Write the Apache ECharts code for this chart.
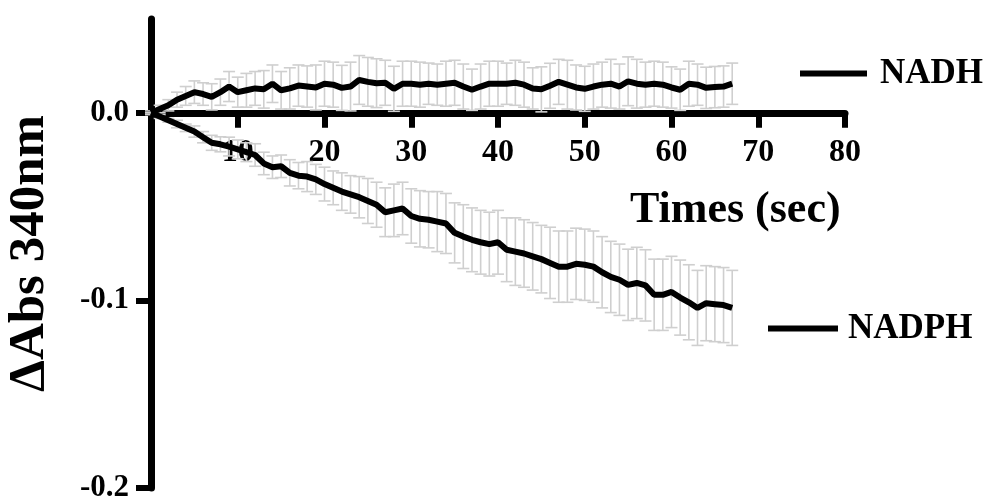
<!DOCTYPE html>
<html>
<head>
<meta charset="utf-8">
<script src="https://cdn.jsdelivr.net/npm/echarts@6/dist/echarts.min.js"></script>
<style>html,body{margin:0;padding:0;background:#fff}#c{width:989px;height:499px}</style>
</head>
<body>
<div id="c"></div>
<script>
const times = [0,1,2,3,4,5,6,7,8,9,10,11,12,13,14,15,16,17,18,19,20,21,22,23,24,25,26,27,28,29,30,31,32,33,34,35,36,37,38,39,40,41,42,43,44,45,46,47,48,49,50,51,52,53,54,55,56,57,58,59,60,61,62,63,64,65,66,67];
const nadh = [0.000,0.002,0.004,0.007,0.009,0.011,0.010,0.0085,0.011,0.014,0.011,0.012,0.013,0.0125,0.0155,0.012,0.013,0.0145,0.014,0.0135,0.0155,0.015,0.0133,0.014,0.0175,0.0165,0.0158,0.016,0.0128,0.0155,0.0155,0.015,0.0155,0.015,0.0155,0.016,0.014,0.0123,0.014,0.0155,0.0155,0.0155,0.016,0.015,0.013,0.0125,0.0144,0.0165,0.015,0.0135,0.0128,0.014,0.015,0.0155,0.014,0.0168,0.0155,0.015,0.0155,0.015,0.0135,0.0123,0.0155,0.015,0.0133,0.0137,0.014,0.0155];
const nadhErr = [0.001,0.002,0.003,0.004,0.005,0.006,0.006,0.007,0.007,0.008,0.008,0.009,0.009,0.010,0.010,0.010,0.011,0.011,0.011,0.012,0.012,0.012,0.012,0.013,0.013,0.013,0.013,0.012,0.012,0.012,0.012,0.012,0.011,0.011,0.012,0.012,0.012,0.011,0.012,0.012,0.012,0.011,0.012,0.012,0.011,0.012,0.012,0.012,0.013,0.012,0.012,0.012,0.012,0.013,0.012,0.013,0.013,0.012,0.012,0.012,0.011,0.011,0.012,0.011,0.011,0.011,0.011,0.011];
const nadph = [0.000,-0.002,-0.004,-0.006,-0.008,-0.010,-0.013,-0.016,-0.0168,-0.018,-0.0195,-0.021,-0.0225,-0.027,-0.029,-0.0285,-0.032,-0.0335,-0.034,-0.0355,-0.038,-0.040,-0.042,-0.0435,-0.045,-0.047,-0.049,-0.053,-0.052,-0.051,-0.055,-0.0565,-0.057,-0.058,-0.059,-0.064,-0.066,-0.0677,-0.069,-0.070,-0.069,-0.073,-0.074,-0.075,-0.0765,-0.078,-0.080,-0.082,-0.082,-0.0805,-0.081,-0.082,-0.085,-0.0875,-0.089,-0.0917,-0.0907,-0.092,-0.097,-0.097,-0.0955,-0.0985,-0.101,-0.104,-0.1015,-0.102,-0.1025,-0.104];
const nadphErr = [0.000,0.001,0.001,0.002,0.002,0.003,0.003,0.004,0.004,0.005,0.005,0.005,0.006,0.006,0.006,0.006,0.007,0.007,0.008,0.008,0.009,0.009,0.010,0.010,0.011,0.012,0.012,0.013,0.014,0.014,0.0145,0.015,0.015,0.016,0.016,0.016,0.017,0.017,0.017,0.017,0.017,0.017,0.018,0.018,0.018,0.018,0.019,0.019,0.019,0.019,0.019,0.019,0.019,0.019,0.019,0.019,0.019,0.019,0.019,0.019,0.019,0.020,0.020,0.020,0.020,0.020,0.020,0.020];
const seriesNames = ['NADH', 'NADPH'];
const xTicks = {min: 0, max: 80, interval: 10};
const yRange = {min: -0.2, max: 0.05, interval: 0.05};
const yTickValues = [-0.2, -0.1, 0];
const xTitle = 'Times (sec)';
const yTitle = 'ΔAbs 340nm';

const FONT = '"Liberation Serif","Times New Roman",serif';
function toErr(vals, errs) {
  return times.map((t, i) => [t, vals[i] - errs[i], vals[i] + errs[i]]);
}
function renderErr(params, api) {
  const x = api.value(0);
  const lo = api.coord([x, api.value(1)]);
  const hi = api.coord([x, api.value(2)]);
  const hw = 6;
  const st = {stroke: '#cfcfcf', lineWidth: 1.6, fill: null};
  return {
    type: 'group',
    children: [
      {type: 'line', shape: {x1: lo[0], y1: lo[1], x2: hi[0], y2: hi[1]}, style: st},
      {type: 'line', shape: {x1: lo[0] - hw, y1: lo[1], x2: lo[0] + hw, y2: lo[1]}, style: st},
      {type: 'line', shape: {x1: hi[0] - hw, y1: hi[1], x2: hi[0] + hw, y2: hi[1]}, style: st}
    ]
  };
}
const chart = echarts.init(document.getElementById('c'), null, {renderer: 'canvas'});
const option = {
  animation: false,
  backgroundColor: '#fff',
  grid: {left: 151, right: 144, top: 19, bottom: 11, containLabel: false, outerBoundsMode: 'none'},
  xAxis: {
    type: 'value', min: xTicks.min, max: xTicks.max, interval: xTicks.interval,
    position: 'bottom', offset: 0,
    axisLine: {onZero: false, lineStyle: {color: '#000', width: 7}},
    axisTick: {show: true, inside: false, length: 15, lineStyle: {color: '#000', width: 6}},
    axisLabel: {margin: 24, color: '#000', fontFamily: FONT, fontWeight: 'bold', fontSize: 32,
      formatter: v => v === 0 ? '' : String(v)},
    splitLine: {show: false}
  },
  yAxis: {
    type: 'value', min: yRange.min, max: yRange.max, interval: yRange.interval,
    name: yTitle, nameLocation: 'middle', nameGap: 96, nameRotate: 90,
    nameTextStyle: {color: '#000', fontFamily: FONT, fontWeight: 'bold', fontSize: 51},
    axisLine: {onZero: false, lineStyle: {color: '#000', width: 7}},
    axisTick: {show: true, inside: false, length: 15, customValues: yTickValues, lineStyle: {color: '#000', width: 6}},
    axisLabel: {margin: 22, color: '#000', fontFamily: FONT, fontWeight: 'bold', fontSize: 31,
      customValues: yTickValues,
      formatter: v => (Math.abs(v) < 1e-9 ? 0 : v).toFixed(1)},
    splitLine: {show: false}
  },
  legend: [
    {data: [seriesNames[0]], left: 800, top: 56, padding: 0, icon: 'rect', itemWidth: 67, itemHeight: 6,
      textStyle: {color: '#000', fontFamily: FONT, fontWeight: 'bold', fontSize: 35, padding: [0, 0, 0, 8]}},
    {data: [seriesNames[1]], left: 768, top: 311, padding: 0, icon: 'rect', itemWidth: 70, itemHeight: 6,
      textStyle: {color: '#000', fontFamily: FONT, fontWeight: 'bold', fontSize: 35, padding: [0, 0, 0, 5]}}
  ],
  graphic: [
    {type: 'text', left: 630, top: 189, z: 10,
      style: {text: xTitle, fill: '#000', font: 'bold 44px ' + FONT}}
  ],
  series: [
    {type: 'custom', name: 'NADH err', data: toErr(nadh, nadhErr), renderItem: renderErr, z: 1, silent: true},
    {type: 'custom', name: 'NADPH err', data: toErr(nadph, nadphErr), renderItem: renderErr, z: 1, silent: true},
    {type: 'line', name: seriesNames[0], data: times.map((t, i) => [t, nadh[i]]), showSymbol: false,
      color: '#000', lineStyle: {color: '#000', width: 6}, z: 3},
    {type: 'line', name: seriesNames[1], data: times.map((t, i) => [t, nadph[i]]), showSymbol: false,
      color: '#000', lineStyle: {color: '#000', width: 6}, z: 3}
  ]
};
chart.setOption(option);
// move the x axis (line, ticks, labels) up to the y = 0 level of the scale
const zeroY = chart.convertToPixel({yAxisIndex: 0}, 0);
const bottomY = chart.convertToPixel({yAxisIndex: 0}, yRange.min);
chart.setOption({xAxis: {offset: zeroY - bottomY}});
</script>
</body>
</html>
